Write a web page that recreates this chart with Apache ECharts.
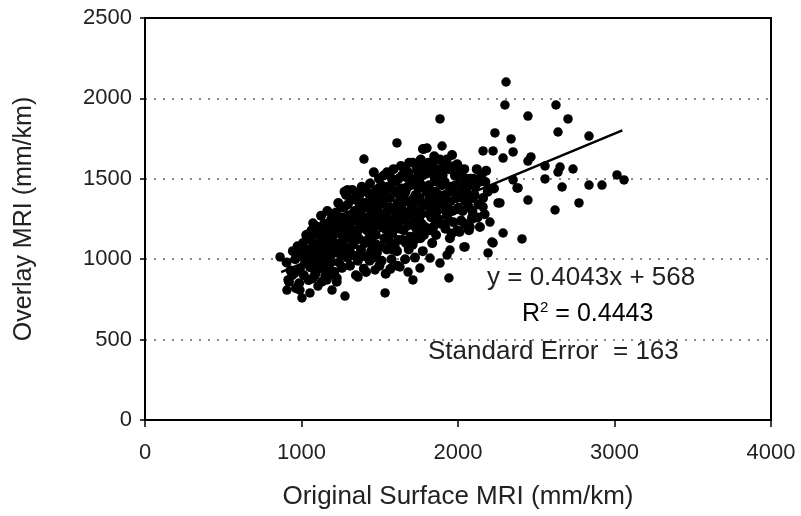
<!DOCTYPE html>
<html>
<head>
<meta charset="utf-8">
<script src="https://cdn.jsdelivr.net/npm/echarts@6/dist/echarts.min.js"></script>
<style>html,body{margin:0;padding:0;background:#fff;}#c{width:801px;height:516px;}</style>
</head>
<body>
<div id="c"></div>
<script>
// ---- data ----
const xTicks = [0, 1000, 2000, 3000, 4000];
const yTicks = [0, 500, 1000, 1500, 2000, 2500];

const clusterPoints = [
[905,980],[930,930],[945,1050],[920,860],[940,900],
[960,1000],[975,1080],[990,940],[985,850],[965,820],[995,1020],
[1010,1100],[1025,980],[1040,1060],[1015,900],[1045,870],[1030,1150],[1048,1010],
[1060,1120],[1075,1040],[1090,960],[1065,1180],[1085,1210],[1095,1090],[1070,880],[1080,1000],
[1110,1150],[1120,1060],[1135,1000],[1145,1220],[1125,1270],[1105,940],[1140,1110],[1130,860],[1115,1010],
[1160,1180],[1170,1080],[1185,1020],[1155,1130],[1190,1250],[1175,950],[1195,1140],[1165,1300],[1180,900],
[1205,1200],[1215,1100],[1230,1040],[1245,1160],[1220,1290],[1240,980],[1210,920],[1235,1350],[1248,1230],[1225,860],
[1255,1260],[1265,1120],[1280,1070],[1290,1190],[1270,1320],[1295,1010],[1260,950],[1285,1400],[1275,1420],[1298,1270],
[1305,1150],[1315,1230],[1330,1090],[1340,1300],[1320,1370],[1345,1020],[1310,960],[1335,1180],[1325,1430],[1348,900],
[1355,1250],[1365,1130],[1380,1060],[1390,1340],[1370,1400],[1395,1200],[1360,990],[1385,1450],[1375,1290],[1398,940],[1362,1180],
[1405,1100],[1415,1260],[1430,1170],[1440,1380],[1420,1320],[1445,1050],[1410,1430],[1435,990],[1425,1220],[1448,1300],[1412,920],[1438,1470],
[1455,1180],[1465,1350],[1480,1090],[1490,1250],[1470,1420],[1495,1500],[1460,1010],[1485,1310],[1475,1150],[1498,960],[1462,1540],[1488,1380],
[1505,1210],[1515,1280],[1530,1130],[1540,1400],[1520,1350],[1545,1060],[1510,1460],[1535,1190],[1525,1520],[1548,1320],[1512,990],[1538,910],
[1555,1240],[1565,1380],[1580,1160],[1590,1300],[1570,1450],[1595,1080],[1560,1530],[1585,1210],[1575,1000],[1598,1420],[1562,1110],[1588,1560],
[1605,1270],[1615,1350],[1630,1190],[1640,1440],[1620,1500],[1645,1120],[1610,1050],[1635,1580],[1625,1400],[1648,1250],[1612,960],[1638,1320],
[1655,1290],[1665,1420],[1680,1210],[1690,1360],[1670,1510],[1695,1140],[1660,1560],[1685,1060],[1675,1270],[1698,1460],[1662,1000],[1688,1600],
[1705,1330],[1715,1250],[1730,1400],[1740,1170],[1720,1480],[1745,1540],[1710,1090],[1735,1300],[1725,1010],[1748,1440],[1712,1600],
[1755,1380],[1765,1280],[1780,1450],[1790,1200],[1770,1520],[1795,1340],[1760,1130],[1785,1580],[1775,1050],[1798,1420],[1762,1620],
[1805,1350],[1815,1460],[1830,1260],[1840,1530],[1820,1180],[1845,1400],[1810,1600],[1835,1100],[1825,1320],[1848,1640],
[1855,1420],[1865,1300],[1880,1500],[1890,1220],[1870,1560],[1895,1380],[1860,1150],[1885,1620],[1875,1250],[1898,1460],
[1905,1350],[1915,1480],[1930,1270],[1940,1560],[1920,1190],[1945,1420],[1910,1600],[1935,1320],[1948,1130],
[1955,1450],[1965,1300],[1980,1520],[1990,1380],[1970,1230],[1995,1590],[1960,1160],
[2005,1400],[2015,1480],[2030,1300],[2040,1560],[2020,1240],[2045,1360],[2010,1170],
[2055,1420],[2065,1330],[2080,1500],[2090,1250],[2070,1180],[2095,1380],
[2110,1450],[2130,1340],[2150,1520],[2170,1280],[2190,1420],[2140,1200],[2180,1550],
[1776,1685],[1962,1648],[1962,1573],[1840,1598],[1738,1567],[1661,1573],[1553,1536],
[2120,1560],[2100,1500],[2230,1440]
];

const clusterPointsB = [
[1005,1040],[1035,1020],[1055,950],[1050,1160],[1078,1090],[1098,1150],[1088,910],[1062,1000],
[1102,1200],[1112,1090],[1128,1160],[1138,950],[1150,1040],[1168,1220],[1178,1120],[1188,980],[1198,1060],[1152,900],
[1202,1150],[1212,1260],[1228,1200],[1238,1090],[1250,1030],[1268,1180],[1278,1240],[1288,1130],[1296,1340],[1262,1060],[1252,1330],
[1302,1210],[1312,1040],[1322,1280],[1338,1240],[1350,1120],[1368,1350],[1378,1200],[1388,1020],[1392,1260],[1352,1380],[1318,1130],
[1402,1350],[1418,1180],[1428,1410],[1442,1130],[1452,1240],[1468,1280],[1478,1210],[1492,1440],[1458,1080],[1482,1040],[1402,1020],
[1502,1400],[1518,1240],[1528,1430],[1542,1270],[1552,1180],[1568,1320],[1578,1500],[1592,1240],[1552,1450],[1582,1060],[1508,1080],[1568,940],
[1602,1480],[1618,1230],[1628,1330],[1642,1520],[1652,1180],[1668,1360],[1678,1450],[1692,1300],[1652,1400],[1682,1540],[1618,1120],[1668,1100],
[1702,1500],[1718,1380],[1728,1200],[1742,1360],[1752,1260],[1768,1460],[1778,1330],[1792,1530],[1752,1500],[1782,1150],[1722,1120],[1768,1220],
[1802,1420],[1818,1280],[1828,1560],[1842,1200],[1852,1350],[1868,1480],[1878,1400],[1892,1560],[1852,1500],[1882,1320],[1818,1380],[1858,1240],
[1902,1520],[1918,1400],[1928,1620],[1942,1240],[1952,1360],[1968,1440],[1978,1580],[1992,1310],[1922,1300],[1982,1460],
[2002,1320],[2018,1540],[2028,1440],[2042,1220],[2052,1500],[2068,1460],[2082,1380],[2092,1300],[2035,1380],
[2105,1400],[2125,1260],[2135,1480],[2160,1380],[2175,1480]
];

const outlierPoints = [
[2307,2102],[2300,1959],[2447,1890],[2626,1959],[2703,1872],[2639,1791],[2339,1748],[2837,1766],
[2288,1629],[2352,1667],[2466,1636],[2447,1610],[2556,1580],[2652,1573],[2639,1542],[2735,1561],
[2556,1499],[2352,1493],[2384,1443],[2665,1449],[2837,1461],[2920,1461],[3016,1524],[3061,1493],
[2447,1368],[2620,1306],[2773,1350],[2268,1350],[2288,1163],[2409,1126],
[2236,1785],[2160,1673],[2224,1673],[1885,1872],[2256,1350],[2160,1325],[2089,1262],[2204,1231],
[2217,1107],[2192,1039],[2045,1076],[2064,1200],[2377,1443],
[1610,1723],[1783,1685],[1898,1704],[1546,1542],[1399,1623],[1802,1691],[1291,1430],[1201,1262],
[863,1014],[1073,1225],[914,871],[907,808],[990,808],[1003,759],[1054,790],[1105,833],[1163,871],
[1195,808],[1278,771],[1534,790],[1227,883],[1086,902],[958,914],[1022,976],[1259,945],[1361,889],[1470,933],
[1942,883],[1712,871],[2038,1076],[2224,1101],[2077,1200],[1930,1026],[1885,976],[1821,1007],
[1629,952],[1681,920],[1757,945],[1994,1182],[1949,1057],[1297,1430],[1374,1412]
];

const trendLine = [[870, 920], [3050, 1801]];

const eqText = 'y = 0.4043x + 568';
const r2Text = '0.4443';
const seText = 'Standard Error  = 163';

const xName = 'Original Surface MRI (mm/km)';
const yName = 'Overlay MRI (mm/km)';

// ---- chart ----
const chart = echarts.init(document.getElementById('c'), null, {renderer: 'canvas'});
const FONT = '"Liberation Sans", Arial, Helvetica, sans-serif';
const plain = v => String(v);
const dotStyle = {symbol: 'circle', itemStyle: {color: '#000', opacity: 1}, z: 3};
const option = {
  animation: false,
  backgroundColor: '#fff',
  grid: {left: 145, right: 30, top: 18, bottom: 96, show: true, borderColor: '#000', borderWidth: 2, backgroundColor: 'transparent'},
  xAxis: {
    type: 'value', min: xTicks[0], max: xTicks[xTicks.length - 1], interval: 1000,
    name: xName, nameLocation: 'middle', nameGap: 64,
    nameTextStyle: {fontFamily: FONT, fontSize: 26, color: '#222'},
    axisLine: {show: true, lineStyle: {color: '#000', width: 2}},
    axisTick: {show: true, length: 7, lineStyle: {color: '#000', width: 1.5}},
    axisLabel: {fontFamily: FONT, fontSize: 22, color: '#222', margin: 22, formatter: plain},
    splitLine: {show: false}
  },
  yAxis: {
    type: 'value', min: yTicks[0], max: yTicks[yTicks.length - 1], interval: 500,
    name: yName, nameLocation: 'middle', nameGap: 108,
    nameTextStyle: {fontFamily: FONT, fontSize: 25, color: '#222'},
    axisLine: {show: true, lineStyle: {color: '#000', width: 2}},
    axisTick: {show: true, length: 5, lineStyle: {color: '#000', width: 1.5}},
    axisLabel: {fontFamily: FONT, fontSize: 22, color: '#222', margin: 13, formatter: plain},
    splitLine: {show: true, showMinLine: false, showMaxLine: false, lineStyle: {color: '#888', width: 2, type: [2, 7]}}
  },
  series: [
    Object.assign({type: 'scatter', data: clusterPoints, symbolSize: 10}, dotStyle),
    Object.assign({type: 'scatter', data: clusterPointsB, symbolSize: 10}, dotStyle),
    Object.assign({type: 'scatter', data: outlierPoints, symbolSize: 9.5}, dotStyle),
    {type: 'line', data: trendLine, symbol: 'none', lineStyle: {color: '#000', width: 2.5}, z: 4}
  ],
  graphic: [
    {type: 'text', left: 487, top: 265, style: {text: eqText, font: '26px ' + FONT, fill: '#222'}},
    {type: 'text', left: 522, top: 300, style: {
      text: '{r|R}{s|2}{r| = ' + r2Text + '}',
      rich: {r: {fontFamily: FONT, fontSize: 25, color: '#222', verticalAlign: 'bottom'}, s: {fontFamily: FONT, fontSize: 15, color: '#222', verticalAlign: 'top', padding: [0, 0, 12, 0]}}
    }},
    {type: 'text', left: 428, top: 339, style: {text: seText, font: '26px ' + FONT, fill: '#222'}}
  ]
};
chart.setOption(option);
</script>
</body>
</html>
